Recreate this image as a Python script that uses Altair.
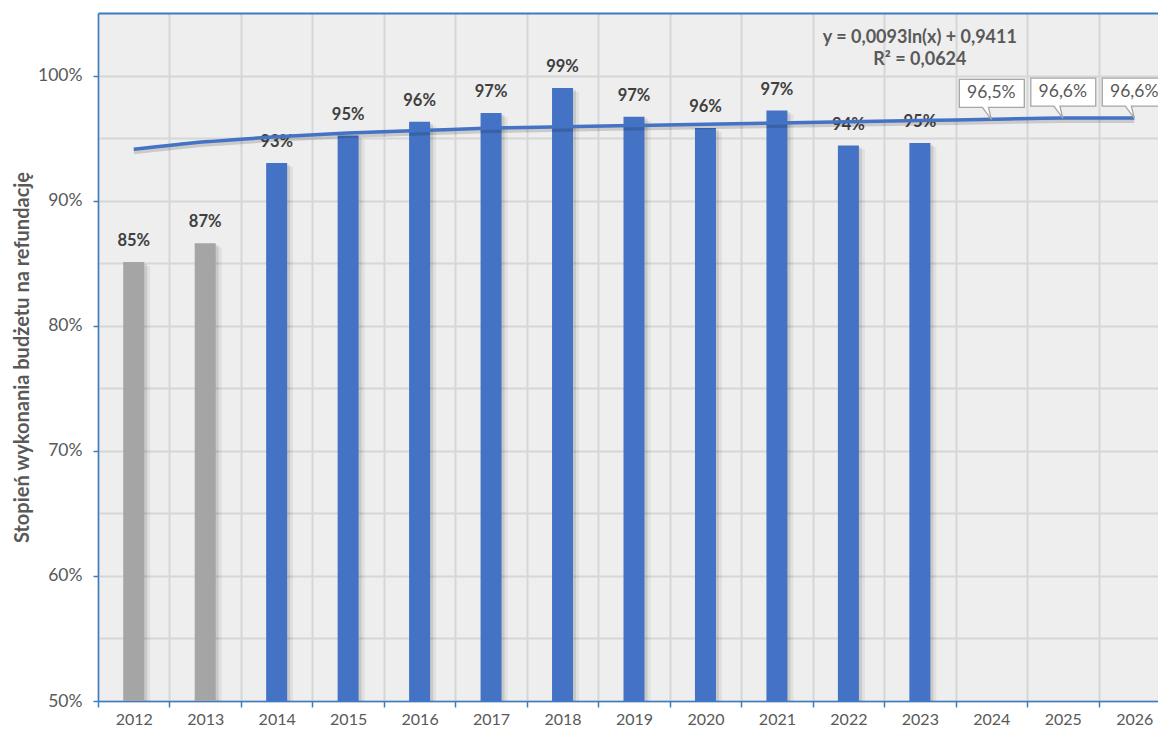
import altair as alt
import pandas as pd

# --- data -------------------------------------------------------------
years = ["2012", "2013", "2014", "2015", "2016", "2017", "2018", "2019",
         "2020", "2021", "2022", "2023", "2024", "2025", "2026"]

bar_years = years[:12]
bar_values = [0.851, 0.866, 0.930, 0.952, 0.963, 0.970, 0.990, 0.967,
              0.958, 0.972, 0.944, 0.946]
bar_groups = ["hist", "hist", "cur", "cur", "cur", "cur", "cur", "cur",
              "cur", "cur", "cur", "cur"]

# logarithmic trend line, one point per year
trend_values = [0.941, 0.947, 0.951, 0.954, 0.956, 0.958, 0.959, 0.960,
                0.961, 0.962, 0.963, 0.964, 0.965, 0.966, 0.966]

forecast_years = ["2024", "2025", "2026"]
forecast_values = [0.965, 0.966, 0.966]

equation_lines = ["y = 0,0093ln(x) + 0,9411", "R² = 0,0624"]
equation_levels = [1.0304, 1.0128]

y_ticks = [0.50, 0.55, 0.60, 0.65, 0.70, 0.75, 0.80, 0.85, 0.90, 0.95,
           1.00, 1.05]

bars = pd.DataFrame({"year": bar_years, "value": bar_values, "group": bar_groups})
trend = pd.DataFrame({"year": years, "value": trend_values})
forecast = pd.DataFrame({"year": forecast_years, "value": forecast_values})
equation = pd.DataFrame({"year": ["2023", "2023"], "value": equation_levels,
                         "text": equation_lines})

# --- style ------------------------------------------------------------
FONT = "Lato"
AXIS_BLUE = "#3B7DC4"
BAR_BLUE = "#4472C4"
BAR_GREY = "#A5A5A5"
TEXT_GREY = "#595959"
LABEL_DARK = "#404040"
GRID = "#D6D6D6"

x_scale = alt.Scale(domain=years, range=[0, 1072], paddingInner=0, paddingOuter=0)
y_scale = alt.Scale(domain=[0.5, 1.05], nice=False, zero=False)

x_axis = alt.Axis(
    title=None, labelAngle=0, tickBand="extent", grid=True,
    gridColor=GRID, gridWidth=2, domainColor=AXIS_BLUE, domainWidth=1.5,
    tickColor=AXIS_BLUE, tickWidth=1.5, tickSize=6,
    labelFont=FONT, labelFontSize=16, labelColor=TEXT_GREY, labelPadding=4,
)
y_axis = alt.Axis(
    title="Stopień wykonania budżetu na refundację",
    values=y_ticks, format=".0%",
    labelExpr="round(datum.value * 100) % 10 == 0 && datum.value < 1.04 ? datum.label : ''",
    grid=True, gridWidth=2,
    gridColor={"condition": {"test": "datum.value > 1.04", "value": AXIS_BLUE}, "value": GRID},
    domainColor=AXIS_BLUE, domainWidth=1.5,
    tickColor=AXIS_BLUE, tickWidth=1.5, tickSize=5,
    tickOpacity={"condition": {"test": "round(datum.value * 100) % 10 == 0 && datum.value < 1.04",
                               "value": 1}, "value": 0},
    labelFont=FONT, labelFontSize=17.5, labelColor=TEXT_GREY, labelPadding=11,
    titleFont=FONT, titleFontSize=20, titleFontWeight="bold", titleColor=TEXT_GREY,
    titlePadding=5,
)

X = alt.X("year:N", scale=x_scale, axis=x_axis, sort=years)
Y = alt.Y("value:Q", scale=y_scale, axis=y_axis)

# soft drop shadows to the right of each bar
shadow1 = alt.Chart(bars).mark_bar(size=21, color="#000000", opacity=0.10,
                                   xOffset=3, yOffset=2).encode(
    x=X, y=Y, y2=alt.datum(0.5))
shadow2 = alt.Chart(bars).mark_bar(size=21, color="#000000", opacity=0.06,
                                   xOffset=6, yOffset=4).encode(
    x=X, y=Y, y2=alt.datum(0.5))

bar_layer = alt.Chart(bars).mark_bar(size=21).encode(
    x=X, y=Y, y2=alt.datum(0.5),
    color=alt.Color("group:N", scale=alt.Scale(domain=["hist", "cur"],
                                               range=[BAR_GREY, BAR_BLUE]),
                    legend=None),
)

bar_labels = alt.Chart(bars).mark_text(
    font=FONT, fontSize=16.5, fontWeight="bold", color=LABEL_DARK,
    baseline="middle", dy=-21,
).encode(x=X, y=Y, text=alt.Text("value:Q", format=".0%"))

trend_shadow = alt.Chart(trend).mark_line(
    color="#000000", opacity=0.15, strokeWidth=4, yOffset=3, interpolate="monotone",
).encode(x=X, y=Y)
trend_line = alt.Chart(trend).mark_line(
    color=BAR_BLUE, strokeWidth=3.5, interpolate="monotone",
).encode(x=X, y=Y)

callout_path = ("M0,0 L-0.28,-0.375 L-1,-0.375 L-1,-1.25 L1.03,-1.25 "
                "L1.03,-0.375 L-0.09,-0.375 Z")
callouts = alt.Chart(forecast).mark_point(
    shape=callout_path, size=4096, filled=True, fill="white", fillOpacity=1,
    stroke="#A6A6A6", strokeWidth=1.3, opacity=1,
).encode(x=X, y=Y)
callout_text = alt.Chart(forecast).transform_calculate(
    label="replace(format(datum.value, '.1%'), '.', ',')"
).mark_text(
    font=FONT, fontSize=17.5, color=TEXT_GREY, baseline="middle", dy=-26,
).encode(x=X, y=Y, text="label:N")

equation_text = alt.Chart(equation).mark_text(
    font=FONT, fontSize=18, fontWeight="bold", color=TEXT_GREY, baseline="middle",
).encode(x=X, y=Y, text="text:N")

chart = alt.layer(
    shadow2, shadow1, bar_layer, bar_labels, trend_shadow, trend_line,
    callouts, callout_text, equation_text,
).properties(
    width=1060, height=688,
    autosize=alt.AutoSizeParams(type="none"),
    padding={"left": 98, "top": 13, "right": 0, "bottom": 32},
    background="white",
).configure_view(stroke=None, fill="#EEEEEE")

chart.save("out.html", embed_options={"renderer": "svg", "actions": False})
